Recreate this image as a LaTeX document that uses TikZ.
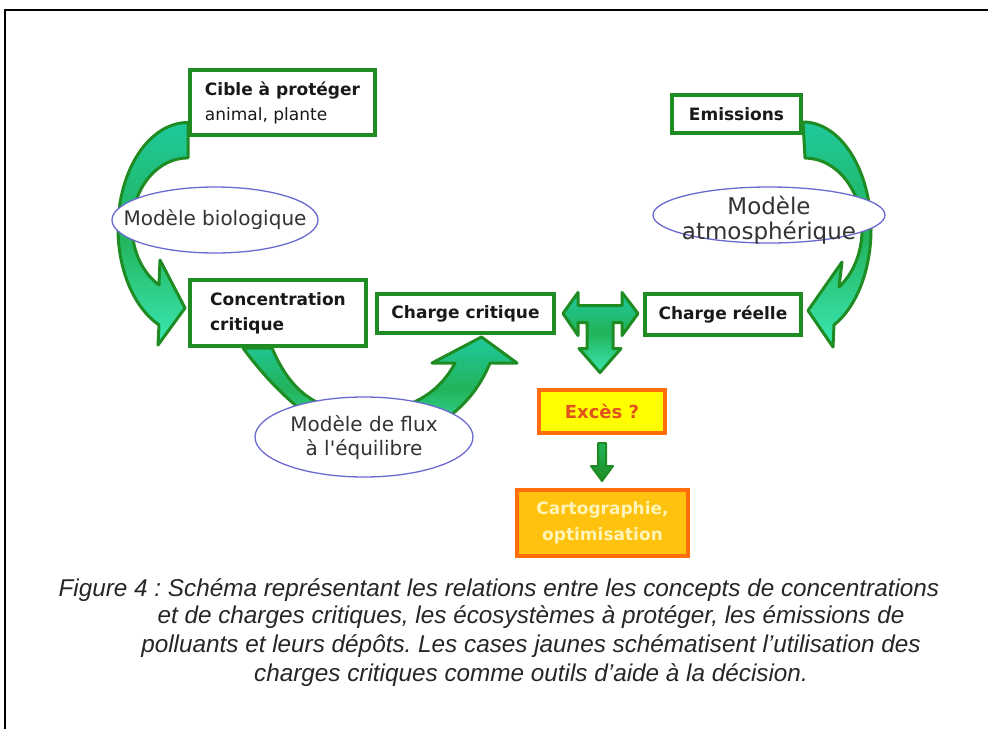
\documentclass[tikz,border=0pt]{standalone}
\usepackage{fontspec}
\setmainfont{DejaVu Sans}
\newfontfamily\capfont{Liberation Sans}
\usetikzlibrary{shapes.geometric}
\pgfdeclarelayer{background}
\pgfsetlayers{background,main}
\definecolor{boxgreen}{HTML}{1E8C23}
\definecolor{arrowteal}{HTML}{1FC99C}
\definecolor{arrowmid}{HTML}{22B35A}
\definecolor{arrowlight}{HTML}{3BE8B4}
\definecolor{ellblue}{HTML}{6A6AD0}
\definecolor{excesfill}{HTML}{FFFF00}
\definecolor{orangeline}{HTML}{FF6E0A}
\definecolor{excestext}{HTML}{E2521C}
\definecolor{cartofill}{HTML}{FFC20E}
\definecolor{cartotext}{HTML}{FFF4B8}
\frenchspacing

\begin{document}
\begin{tikzpicture}[x=1pt,y=-1pt,
  gbox/.style={draw=boxgreen, line width=4pt, fill=white, text=black!90,
    font=\fontsize{17}{25}\selectfont\bfseries, inner sep=0pt},
  ybox/.style={draw=orangeline, line width=4pt, inner sep=0pt,
    font=\fontsize{17}{26}\selectfont\bfseries},
  model/.style={draw=ellblue, line width=1.3pt, fill=white},
  modeltext/.style={font=\fontsize{20}{24}\selectfont, text=black!80, align=center},
  bigarrow/.style={draw=boxgreen, line width=3pt, line join=round,
    top color=arrowteal, bottom color=arrowlight, middle color=arrowmid},
  smallarrow/.style={draw=boxgreen, line width=2pt, line join=round,
    top color=arrowmid, bottom color=boxgreen},
  caption/.style={font=\capfont\itshape\fontsize{24.3}{29}\selectfont, text=black!85}]
\useasboundingbox (0,0) rectangle (988,729);
\draw[line width=2.5pt] (5,729) -- (5,10) -- (988,10);

% boxes
\node[gbox, minimum width=185pt, minimum height=65pt, align=left] (cible) at (282.5,102.5) {Cible à protéger\\\mdseries animal, plante};
\node[gbox, minimum width=176pt, minimum height=66pt, align=left] (conc) at (278,313) {Concentration\\critique};
\node[gbox, minimum width=177pt, minimum height=39pt] (chcrit) at (465.5,313.5) {Charge critique};
\node[gbox, minimum width=156pt, minimum height=41pt] (chreel) at (723,314.5) {Charge réelle};
\node[gbox, minimum width=129pt, minimum height=38pt] (emis) at (736.5,114) {Emissions};
\node[ybox, fill=excesfill, text=excestext, minimum width=126pt, minimum height=43pt, font=\fontsize{18}{26}\selectfont\bfseries] (exces) at (602,411.5) {Excès ?};
\node[ybox, fill=cartofill, text=cartotext, minimum width=171pt, minimum height=66pt, align=center] (carto) at (602.5,523) {Cartographie,\\optimisation};

% curved arrows, behind the boxes
\begin{pgfonlayer}{background}
\fill[white] (0,0) rectangle (988,729);
\draw[bigarrow] ([shift={(0,20)}]cible.west) arc[start angle=-90, end angle=-245.5, x radius=70, y radius=106]
  -- (158,345) -- ([shift={(-3,-5)}]conc.west) -- (160,260) -- (159,285)
  arc[start angle=-238.8, end angle=-90, x radius=56, y radius=68.5] -- cycle;
\draw[bigarrow] ([shift={(0,8)}]emis.east) arc[start angle=-90, end angle=62.9, x radius=68, y radius=107.4]
  -- (833,347) -- ([shift={(5,-4)}]chreel.east) -- (842,262) -- (839,287)
  arc[start angle=53.4, end angle=-90, x radius=57, y radius=71.5] -- cycle;
\draw[bigarrow] (243,348) .. controls (270,385) and (315,432) .. (365,442)
  .. controls (425,442) and (470,412) .. (490,363) -- (517,363) -- ([shift={(16,2)}]chcrit.south)
  -- (432,363) -- (455,363) .. controls (440,392) and (410,412) .. (365,412)
  .. controls (320,412) and (292,395) .. (272,348) -- cycle;
\end{pgfonlayer}

% models
\draw[model] (215,220) ellipse[x radius=103, y radius=33];
\node[modeltext] (bio) at (215,220) {Modèle biologique};
\draw[model] (769,215) ellipse[x radius=116, y radius=28];
\node[modeltext, font=\fontsize{23}{25}\selectfont] (atmo) at (769,220) {Modèle\\atmosphérique};
\draw[model] (364,437) ellipse[x radius=109, y radius=40];
\node[modeltext] (flux) at (364,438) {Modèle de flux\\à l\textquotesingle équilibre};

% T arrow and small arrow
\draw[bigarrow] ([xshift=7pt]chcrit.east) -- ++(15,-21) -- ++(0,13) -- ++(44,0) -- ++(0,-13)
  -- ++(16,21) -- ++(-16,22) -- ++(0,-13) -- ++(-9,0) -- ++(0,26) -- ++(8,0)
  -- ++(-21,24) -- ++(-21,-24) -- ++(8,0) -- ++(0,-26) -- ++(-9,0) -- ++(0,13) -- cycle;
\draw[smallarrow] ([shift={(-4,8)}]exces.south) -- ++(8,0) -- ++(0,23) -- ++(7,0)
  -- ++(-11,15) -- ++(-11,-15) -- ++(7,0) -- cycle;

% caption
\node[caption, anchor=west] (caprow) at (55,590) {Figure 4 : Schéma représentant les relations entre les concepts de concentrations};
\node[caption, align=center] (capbody) at (531,646) {et de charges critiques, les écosystèmes à protéger, les émissions de\\polluants et leurs dépôts. Les cases jaunes schématisent l’utilisation des\\charges critiques comme outils d’aide à la décision.};
\end{tikzpicture}
\end{document}
